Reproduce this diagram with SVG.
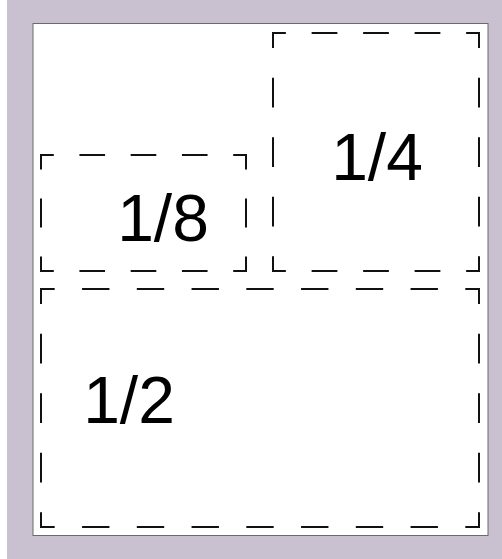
<svg xmlns="http://www.w3.org/2000/svg" width="502" height="559" viewBox="0 0 502 559">
<style>
.d{stroke:#111;stroke-width:2;fill:none}
.t{font-family:"Liberation Sans","DejaVu Sans",sans-serif;font-size:66px;fill:#000;text-anchor:middle}
</style>
<rect x="0" y="0" width="502" height="559" fill="#ffffff"/>
<rect x="7" y="0" width="495" height="559" fill="#c9c1cf"/>
<rect id="page" x="33" y="23.5" width="455" height="512" fill="#ffffff" stroke="#6a6a6a" stroke-width="1"/>
<g id="quarter">
<line class="d" x1="272" y1="33" x2="480" y2="33" stroke-dasharray="25.75 25.75" stroke-dashoffset="11.875"/>
<line class="d" x1="272" y1="271" x2="480" y2="271" stroke-dasharray="25.75 25.75" stroke-dashoffset="11.875"/>
<line class="d" x1="273" y1="32" x2="273" y2="272" stroke-dasharray="29.75 29.75" stroke-dashoffset="13.875"/>
<line class="d" x1="479" y1="32" x2="479" y2="272" stroke-dasharray="29.75 29.75" stroke-dashoffset="13.875"/>
<text class="t" x="377" y="180">1/4</text>
</g>
<g id="eighth">
<line class="d" x1="40" y1="155" x2="247" y2="155" stroke-dasharray="25.625 25.625" stroke-dashoffset="11.81"/>
<line class="d" x1="40" y1="271" x2="247" y2="271" stroke-dasharray="25.625 25.625" stroke-dashoffset="11.81"/>
<line class="d" x1="41" y1="154" x2="41" y2="272" stroke-dasharray="29 29" stroke-dashoffset="13.5"/>
<line class="d" x1="246" y1="154" x2="246" y2="272" stroke-dasharray="29 29" stroke-dashoffset="13.5"/>
<text class="t" x="163" y="241">1/8</text>
</g>
<g id="half">
<line class="d" x1="40" y1="289" x2="480" y2="289" stroke-dasharray="27.375 27.375" stroke-dashoffset="12.69"/>
<line class="d" x1="40" y1="527" x2="480" y2="527" stroke-dasharray="27.375 27.375" stroke-dashoffset="12.69"/>
<line class="d" x1="41" y1="288" x2="41" y2="528" stroke-dasharray="29.75 29.75" stroke-dashoffset="13.875"/>
<line class="d" x1="479" y1="288" x2="479" y2="528" stroke-dasharray="29.75 29.75" stroke-dashoffset="13.875"/>
<text class="t" x="129" y="423">1/2</text>
</g>
</svg>
